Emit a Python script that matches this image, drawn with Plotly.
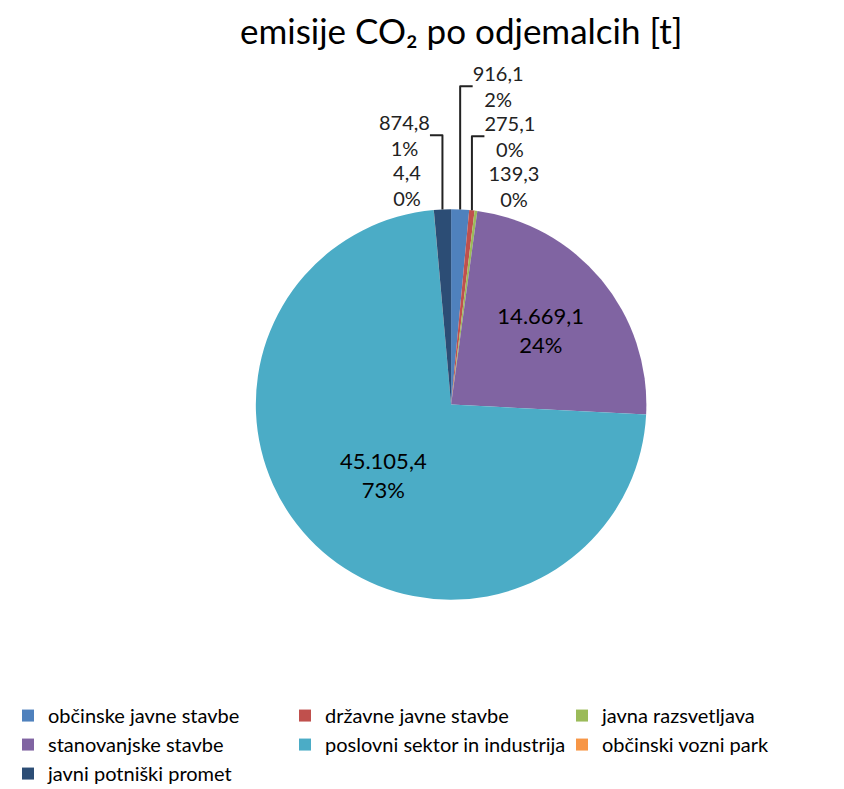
import plotly.graph_objects as go

categories = ["občinske javne stavbe", "državne javne stavbe", "javna razsvetljava",
              "stanovanjske stavbe", "poslovni sektor in industrija",
              "občinski vozni park", "javni potniški promet"]
values = [916.1, 275.1, 139.3, 14669.1, 45105.4, 4.4, 874.8]
percent_labels = ["2%", "0%", "0%", "24%", "73%", "0%", "1%"]
colors = ["#4F81BD", "#C0504D", "#9BBB59", "#8064A2", "#4BACC6", "#F79646", "#2C4D75"]
text_pos = ["outside", "outside", "outside", "inside", "inside", "outside", "outside"]

fig = go.Figure(go.Pie(
    labels=categories,
    values=values,
    text=percent_labels,
    sort=False,
    direction="clockwise",
    rotation=0,
    marker=dict(colors=colors, line=dict(width=0)),
    texttemplate="%{value:,.1f}<br>%{text}",
    textposition=text_pos,
    insidetextorientation="horizontal",
    textfont=dict(family="Lato", size=22, color="black"),
    outsidetextfont=dict(family="Lato", size=20, color="#222222"),
    hoverinfo="label+value+percent",
    domain=dict(x=[0.05, 1.0], y=[0.25, 0.745]),
))

fig.update_layout(
    width=844, height=789,
    separators=",.",
    font=dict(family="Lato", color="black"),
    title=dict(text="emisije CO₂ po odjemalcih [t]", x=0.537, xanchor="center",
               y=0.985, yanchor="top", font=dict(family="Lato", size=35, color="black")),
    margin=dict(l=0, r=0, t=0, b=0, autoexpand=False),
    paper_bgcolor="white",
    legend=dict(orientation="h", x=0.0, xanchor="left", y=0.005, yanchor="bottom",
                entrywidth=232, entrywidthmode="pixels",
                font=dict(family="Lato", size=20, color="black"),
                itemclick=False),
)

fig.write_html("out.html")
